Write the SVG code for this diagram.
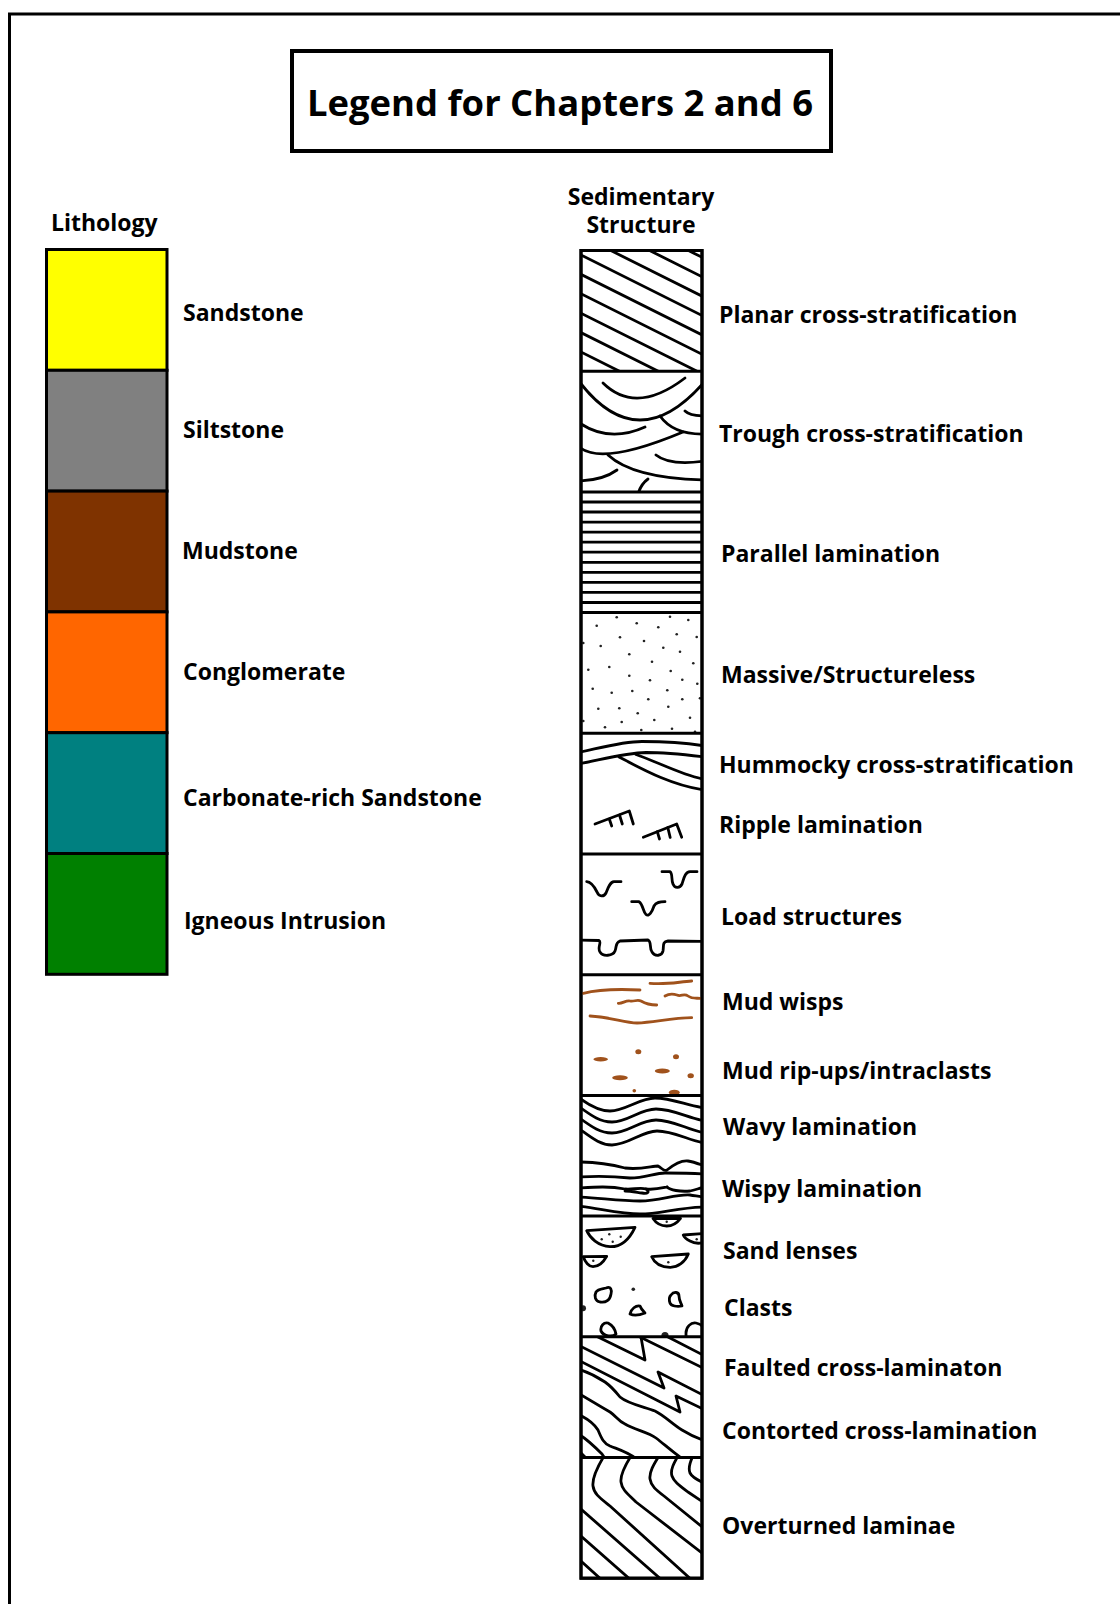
<svg xmlns="http://www.w3.org/2000/svg" width="1120" height="1604" viewBox="0 0 1120 1604">
  <style>
    .frame { fill: none; stroke: #000; stroke-width: 3; }
    .title-box { fill: #fff; stroke: #000; stroke-width: 4; }
    .swatch { stroke: #000; stroke-width: 3; }
    .col { fill: #fff; stroke: #000; stroke-width: 3; }
    .sep { stroke: #000; stroke-width: 3; }
    .ln { fill: none; stroke: #000; stroke-width: 2.8; stroke-linecap: round; stroke-linejoin: round; }
    .mud { fill: none; stroke: #A0521C; stroke-width: 2.8; stroke-linecap: round; stroke-linejoin: round; }
    .mudblob { fill: #A0521C; }
    .dot { fill: #222; }
    .txt { font-family: "Open Sans", "Liberation Sans", sans-serif; font-weight: 700; font-size: 23px; fill: #000; }
    .title { font-family: "Open Sans", "Liberation Sans", sans-serif; font-weight: 700; font-size: 36.4px; fill: #000; }
  </style>
  <defs>
    <clipPath id="c1"><rect x="581" y="250.5" width="121" height="120.7"/></clipPath>
    <clipPath id="c2"><rect x="581" y="371.2" width="121" height="120.7"/></clipPath>
    <clipPath id="c3"><rect x="581" y="491.9" width="121" height="120.7"/></clipPath>
    <clipPath id="c4"><rect x="581" y="612.6" width="121" height="120.7"/></clipPath>
    <clipPath id="c5"><rect x="581" y="733.3" width="121" height="120.7"/></clipPath>
    <clipPath id="c6"><rect x="581" y="854.0" width="121" height="120.7"/></clipPath>
    <clipPath id="c7"><rect x="581" y="974.7" width="121" height="120.7"/></clipPath>
    <clipPath id="c8"><rect x="581" y="1095.4" width="121" height="120.7"/></clipPath>
    <clipPath id="c9"><rect x="581" y="1216.1" width="121" height="120.7"/></clipPath>
    <clipPath id="c10"><rect x="581" y="1336.8" width="121" height="120.7"/></clipPath>
    <clipPath id="c11"><rect x="581" y="1457.5" width="121" height="120.7"/></clipPath>
  </defs>

  <rect width="1120" height="1604" fill="#fff"/>
  <!-- page frame (left and top edges) -->
  <path class="frame" d="M9.5,1604 V14 H1120"/>

  <!-- title -->
  <g id="title">
    <rect class="title-box" x="292" y="51" width="539" height="100"/>
    <text class="title" x="307" y="116">Legend for Chapters 2 and 6</text>
  </g>

  <!-- lithology column -->
  <g id="lithology">
    <text class="txt" x="51" y="231">Lithology</text>
    <g id="sandstone">
      <rect class="swatch" x="46.5" y="249.5" width="120.5" height="120.8" fill="#FFFF00"/>
      <text class="txt" x="183" y="320.5">Sandstone</text>
    </g>
    <g id="siltstone">
      <rect class="swatch" x="46.5" y="370.3" width="120.5" height="120.8" fill="#808080"/>
      <text class="txt" x="183" y="438">Siltstone</text>
    </g>
    <g id="mudstone">
      <rect class="swatch" x="46.5" y="491.1" width="120.5" height="120.8" fill="#7F3300"/>
      <text class="txt" x="182" y="558.5">Mudstone</text>
    </g>
    <g id="conglomerate">
      <rect class="swatch" x="46.5" y="611.9" width="120.5" height="120.8" fill="#FF6600"/>
      <text class="txt" x="183" y="679.5">Conglomerate</text>
    </g>
    <g id="carbonate-sandstone">
      <rect class="swatch" x="46.5" y="732.7" width="120.5" height="120.8" fill="#008080"/>
      <text class="txt" x="183" y="805.5">Carbonate-rich Sandstone</text>
    </g>
    <g id="igneous-intrusion">
      <rect class="swatch" x="46.5" y="853.5" width="120.5" height="120.8" fill="#008000"/>
      <text class="txt" x="184" y="929">Igneous Intrusion</text>
    </g>
  </g>

  <!-- sedimentary structure column -->
  <g id="structures">
    <text class="txt" x="641" y="205" text-anchor="middle">Sedimentary</text>
    <text class="txt" x="641" y="233" text-anchor="middle">Structure</text>
    <rect class="col" x="581" y="250.5" width="121" height="1327.7"/>

    <!-- planar cross-stratification -->
    <g id="planar" clip-path="url(#c1)">
      <g class="ln">
        <line x1="571" y1="191.8" x2="712" y2="262.3"/>
        <line x1="571" y1="211.2" x2="712" y2="281.7"/>
        <line x1="571" y1="230.6" x2="712" y2="301.1"/>
        <line x1="571" y1="250" x2="712" y2="320.5"/>
        <line x1="571" y1="269.4" x2="712" y2="339.9"/>
        <line x1="571" y1="288.8" x2="712" y2="359.3"/>
        <line x1="571" y1="308.2" x2="712" y2="378.7"/>
        <line x1="571" y1="327.6" x2="712" y2="398.1"/>
        <line x1="571" y1="347" x2="712" y2="417.5"/>
      </g>
    </g>

    <!-- trough cross-stratification -->
    <g id="trough" clip-path="url(#c2)">
      <g class="ln">
        <path d="M603,383 Q636,415.5 685,378"/>
        <path d="M578,380 Q638,460 706,380"/>
        <path d="M685,411 Q690,416 705,416"/>
        <path d="M578,422 Q608.5,443.5 645,427"/>
        <path d="M660,416 Q673.5,435 705,434"/>
        <path d="M578,446 Q599.5,467 683,432"/>
        <path d="M656,455 Q669.5,466 705,461"/>
        <path d="M608,455 Q633.5,478.5 705,480"/>
        <path d="M578,481 Q602.5,480.5 617,470"/>
        <path d="M638,494 Q641,484 648,479"/>
      </g>
    </g>

    <!-- parallel lamination -->
    <g id="parallel" clip-path="url(#c3)">
      <g class="ln">
        <line x1="581" y1="502" x2="702" y2="502"/>
        <line x1="581" y1="512" x2="702" y2="512"/>
        <line x1="581" y1="522.1" x2="702" y2="522.1"/>
        <line x1="581" y1="532.1" x2="702" y2="532.1"/>
        <line x1="581" y1="542.2" x2="702" y2="542.2"/>
        <line x1="581" y1="552.2" x2="702" y2="552.2"/>
        <line x1="581" y1="562.3" x2="702" y2="562.3"/>
        <line x1="581" y1="572.3" x2="702" y2="572.3"/>
        <line x1="581" y1="582.4" x2="702" y2="582.4"/>
        <line x1="581" y1="592.4" x2="702" y2="592.4"/>
        <line x1="581" y1="602.5" x2="702" y2="602.5"/>
      </g>
    </g>

    <!-- massive / structureless -->
    <g id="massive" clip-path="url(#c4)">
      <g class="dot">
        <circle cx="616.7" cy="617.3" r="1.3"/><circle cx="670" cy="616.7" r="1.3"/>
        <circle cx="688.3" cy="620" r="1.3"/><circle cx="596.7" cy="625.7" r="1.3"/>
        <circle cx="636.7" cy="623.3" r="1.3"/><circle cx="658.3" cy="627.3" r="1.3"/>
        <circle cx="676.7" cy="634.3" r="1.3"/><circle cx="620" cy="637.3" r="1.3"/>
        <circle cx="696.7" cy="637" r="1.3"/><circle cx="583.3" cy="643" r="1.3"/>
        <circle cx="600.7" cy="646" r="1.3"/><circle cx="644" cy="641" r="1.3"/>
        <circle cx="663.3" cy="647.7" r="1.3"/><circle cx="680" cy="651.7" r="1.3"/>
        <circle cx="629.3" cy="654.3" r="1.3"/><circle cx="652" cy="661.7" r="1.3"/>
        <circle cx="693.3" cy="663.3" r="1.3"/><circle cx="588.3" cy="669.7" r="1.3"/>
        <circle cx="609.3" cy="667" r="1.3"/><circle cx="670.7" cy="671" r="1.3"/>
        <circle cx="629.3" cy="675.7" r="1.3"/><circle cx="650" cy="680.3" r="1.3"/>
        <circle cx="682.3" cy="679.7" r="1.3"/><circle cx="697.3" cy="683.7" r="1.3"/>
        <circle cx="592.7" cy="688.7" r="1.3"/><circle cx="611.7" cy="692.7" r="1.3"/>
        <circle cx="632.3" cy="691" r="1.3"/><circle cx="667.3" cy="690.3" r="1.3"/>
        <circle cx="648.3" cy="699.3" r="1.3"/><circle cx="682.3" cy="699.3" r="1.3"/>
        <circle cx="700" cy="698.3" r="1.3"/><circle cx="598.3" cy="708.7" r="1.3"/>
        <circle cx="619.3" cy="708.3" r="1.3"/><circle cx="637.7" cy="713.3" r="1.3"/>
        <circle cx="668.3" cy="706.7" r="1.3"/><circle cx="583.3" cy="721" r="1.3"/>
        <circle cx="605" cy="727.3" r="1.3"/><circle cx="621.7" cy="722" r="1.3"/>
        <circle cx="654.3" cy="720" r="1.3"/><circle cx="690" cy="717.7" r="1.3"/>
        <circle cx="641.3" cy="730" r="1.3"/><circle cx="672" cy="728.7" r="1.3"/>
        <circle cx="695" cy="731.7" r="1.3"/>
      </g>
    </g>

    <!-- hummocky cross-stratification and ripple lamination -->
    <g id="hummocky-ripple" clip-path="url(#c5)">
      <g class="ln">
        <path d="M578,752.5 C600,748 622,741.5 642,741.5 C665,741.5 688,743 705,746"/>
        <path d="M578,764 C600,760 625,753 646,752.5 C668,752.5 688,755 705,757"/>
        <path d="M619,757 C640,768 672,786 705,790"/>
        <path d="M636,754.5 C660,763 684,776 705,779.5"/>
        <path d="M595,824 L629.3,811 L633.3,824"/>
        <path d="M609.3,819 L611.7,826"/>
        <path d="M619.5,815 L622.3,824"/>
        <path d="M643.3,837.3 L676.7,824 L681.7,837.3"/>
        <path d="M657.3,831.7 L659.5,839"/>
        <path d="M667.8,827.5 L670.2,837.5"/>
      </g>
    </g>

    <!-- load structures -->
    <g id="load" clip-path="url(#c6)">
      <g class="ln">
        <path d="M586.7,881.7 C592,882 595,888 597,892 C599,897 604,897 606,893 C608,888 610,882 614,881.7 L621,881.7"/>
        <path d="M662,871.7 L670,871.7 C673,874 671,880 673,884 C675,889 680,888 682,884 C684,878 685,872 690,871.7 L697,871.7"/>
        <path d="M631.7,901.7 L639,901.7 C643,904 643,912 646,914.5 C649,917 652,912 654,906 C656,902 660,901.7 665,901.7"/>
        <path d="M578,940 L599,940.5 C602,942 597,948 600,952 C603,957 613,956 615,951 C617,946 615,943 620,941 L648,940 C652,942 649,948 652,952 C655,957 662,956 663,951 C664,945 662,942 668,941 L705,941.5"/>
      </g>
    </g>

    <!-- mud wisps and mud rip-ups -->
    <g id="mud" clip-path="url(#c7)">
      <g class="mud">
        <path d="M583.3,993.3 C600,989 620,989 640,990"/>
        <path d="M650,983.3 C665,985 678,982 691.7,981"/>
        <path d="M665,996 C670,993 674,994 677,995 C681,997 684,993 688,996 C692,999 696,998 700,998.3"/>
        <path d="M618.3,1003.3 C622,1004 626,1000 630,1001 C634,1002 637,999 641,1001 C646,1004 650,1005 656.7,1005"/>
        <path d="M590,1016 C610,1017 625,1023 637,1023 C655,1022 672,1018 691.7,1017.7"/>
      </g>
      <g class="mudblob">
        <ellipse cx="638.3" cy="1051.7" rx="3" ry="2.5"/>
        <ellipse cx="600.7" cy="1059.3" rx="7.3" ry="2.2"/>
        <ellipse cx="676" cy="1056.7" rx="3" ry="2.5"/>
        <ellipse cx="662.3" cy="1071" rx="7.5" ry="2.5"/>
        <ellipse cx="690.7" cy="1075.7" rx="3.2" ry="2.5"/>
        <ellipse cx="620" cy="1077.7" rx="7.8" ry="2.5"/>
        <ellipse cx="634.3" cy="1090.7" rx="1.8" ry="1.8"/>
        <ellipse cx="674.3" cy="1092.5" rx="5.5" ry="2.8"/>
      </g>
    </g>

    <!-- wavy and wispy lamination -->
    <g id="wavy-wispy" clip-path="url(#c8)">
      <g class="ln">
        <path d="M578,1097 C590,1106 600,1111 610,1111 C625,1111 640,1098 655,1098 C672,1098 688,1106 705,1108"/>
        <path d="M578,1106 C592,1116 600,1122 612,1122 C628,1122 640,1109 656,1109 C673,1109 688,1118 705,1121"/>
        <path d="M578,1117 C592,1127 600,1133 612,1133 C628,1133 640,1120 656,1120 C673,1120 688,1130 705,1133"/>
        <path d="M578,1128 C592,1138 600,1145 612,1145 C628,1145 642,1131 657,1131 C674,1131 690,1141 705,1143"/>
        <path d="M578,1162 C595,1162 610,1164 625,1168 C640,1170 652,1166 658,1166 C662,1168 664,1172 667,1170 C672,1166 680,1160 688,1161 C694,1162 699,1164 705,1166"/>
        <path d="M578,1177 C595,1176 612,1176 630,1178 C645,1178 655,1173 665,1173 C680,1173 692,1173 705,1174"/>
        <path d="M578,1188 C595,1187 610,1186 625,1189 C632,1190 640,1187 646,1189 C650,1192 648,1194 642,1193 C635,1192 630,1191 625,1191"/>
        <path d="M667,1187 C670,1190 680,1192 690,1191 C695,1190 700,1188 705,1187"/>
        <path d="M646,1189 C655,1190 662,1188 667,1187"/>
        <path d="M578,1197 C600,1198 620,1201 640,1201 C660,1201 675,1194 690,1195 C697,1196 701,1197 705,1197"/>
        <path d="M578,1206 C598,1208 620,1214 640,1214 C660,1214 680,1207 705,1207"/>
      </g>
    </g>

    <!-- sand lenses and clasts -->
    <g id="lenses-clasts" clip-path="url(#c9)">
      <g class="ln">
        <path d="M586.7,1230.7 L635,1227.3 C630,1238 622,1247 610,1246.7 C598,1246 590,1238 586.7,1230.7 Z"/>
        <path d="M653,1218.5 L680.5,1218.3 C677,1223 672,1226 666.7,1226 C660,1226 656,1223 653,1218.5 Z"/>
        <path d="M683.3,1235 L705,1233.3 L705,1241 C702,1244 695,1244 690,1241 C686,1239 684,1237 683.3,1235 Z"/>
        <path d="M583.3,1256.7 L606.7,1256.3 C603,1263 598,1266.7 593,1266.7 C589,1266.7 585,1262 583.3,1256.7 Z"/>
        <path d="M651.7,1256.7 L688.3,1254 C685,1262 678,1267.5 670,1267.3 C660,1267 654,1262 651.7,1256.7 Z"/>
        <path d="M606,1288 C611,1286 612,1290 611,1294 C610,1300 606,1303 600,1302 C595,1301 594,1296 596,1292 C598,1289 602,1289 606,1288 Z"/>
        <path d="M630,1314 C631,1309 636,1305 640,1306 C641,1309 643,1311 645,1313 C640,1315 634,1316 630,1314 Z"/>
        <path d="M671,1295 C674,1291 679,1292 679,1296 C679,1300 681,1303 682,1306 C677,1307 671,1306 670,1303 C669,1300 669,1297 671,1295 Z"/>
        <path d="M601,1331 C600,1326 604,1322 608,1323 C612,1325 615,1329 616,1334 C613,1337 604,1337 601,1331 Z"/>
        <path d="M686,1333 C686,1327 691,1322 696,1323 C701,1324 704,1327 705,1331 L705,1338 L686,1338 Z"/>
      </g>
      <g class="dot">
        <circle cx="609.3" cy="1234.3" r="1.2"/><circle cx="620.7" cy="1236.7" r="1.2"/>
        <circle cx="612.7" cy="1241.7" r="1.2"/><circle cx="601.7" cy="1239.3" r="1.2"/>
        <circle cx="666.7" cy="1221.7" r="1.2"/><circle cx="696.7" cy="1239.3" r="1.2"/>
        <circle cx="593.3" cy="1260.7" r="1.2"/><circle cx="668.3" cy="1262.3" r="1.2"/>
        <circle cx="633.3" cy="1289.3" r="1.8"/>
        <circle cx="583" cy="1308.3" r="3"/>
        <circle cx="665" cy="1335.5" r="3.6"/>
      </g>
    </g>

    <!-- faulted and contorted cross-lamination -->
    <g id="faulted-contorted" clip-path="url(#c10)">
      <g class="ln">
        <path d="M598,1337 L645,1360 L641,1337"/>
        <path d="M578,1345 L664,1388 L658,1372 L705,1396"/>
        <path d="M578,1360 L680,1412 L676,1396 L705,1410"/>
        <path d="M640,1337 L705,1369"/>
        <path d="M668,1337 L705,1356"/>
        <path d="M578,1369 C588,1372 596,1376 605,1382 C612,1387 616,1392 620,1397 C628,1404 645,1407 655,1411 C665,1416 672,1424 682,1430 C690,1435 697,1438 705,1441"/>
        <path d="M578,1393 C590,1400 600,1406 610,1412 C616,1416 618,1421 625,1424 C635,1430 648,1432 656,1438 C664,1444 670,1450 684,1460"/>
        <path d="M578,1414 C586,1418 594,1423 598,1430 C601,1437 603,1443 610,1446 C620,1450 628,1452 638,1460"/>
        <path d="M578,1434 C586,1438 594,1446 602,1454 L606,1460"/>
        <path d="M578,1450 L588,1460"/>
      </g>
    </g>

    <!-- overturned laminae -->
    <g id="overturned" clip-path="url(#c11)">
      <g class="ln">
        <path d="M604,1456 C598,1466 592,1478 593,1486 C594,1494 600,1498 610,1506 L694,1582"/>
        <path d="M631,1456 C626,1464 620,1474 621,1482 C622,1490 628,1494 636,1502 L706,1556"/>
        <path d="M659,1456 C654,1464 649,1472 650,1479 C651,1486 656,1490 664,1496 L706,1530"/>
        <path d="M678,1456 C674,1463 670,1470 672,1476 C674,1482 680,1486 688,1492 L706,1504"/>
        <path d="M693,1456 C690,1462 688,1468 690,1473 C692,1477 697,1480 706,1484"/>
        <path d="M578,1506.5 L663,1581"/>
        <path d="M578,1533.5 L632,1581"/>
        <path d="M578,1558.5 L603,1581"/>
      </g>
    </g>

    <!-- section dividers -->
    <g class="sep">
      <line x1="581" y1="371.2" x2="702" y2="371.2"/>
      <line x1="581" y1="491.9" x2="702" y2="491.9"/>
      <line x1="581" y1="612.6" x2="702" y2="612.6"/>
      <line x1="581" y1="733.3" x2="702" y2="733.3"/>
      <line x1="581" y1="854.0" x2="702" y2="854.0"/>
      <line x1="581" y1="974.7" x2="702" y2="974.7"/>
      <line x1="581" y1="1095.4" x2="702" y2="1095.4"/>
      <line x1="581" y1="1216.1" x2="702" y2="1216.1"/>
      <line x1="581" y1="1336.8" x2="702" y2="1336.8"/>
      <line x1="581" y1="1457.5" x2="702" y2="1457.5"/>
    </g>
    <rect x="581" y="250.5" width="121" height="1327.7" fill="none" stroke="#000" stroke-width="3"/>

    <g id="labels">
      <text class="txt" x="719" y="323">Planar cross-stratification</text>
      <text class="txt" x="719" y="441.5">Trough cross-stratification</text>
      <text class="txt" x="721" y="561.5">Parallel lamination</text>
      <text class="txt" x="721" y="682.5">Massive/Structureless</text>
      <text class="txt" x="719" y="772.5">Hummocky cross-stratification</text>
      <text class="txt" x="719" y="833">Ripple lamination</text>
      <text class="txt" x="721" y="925">Load structures</text>
      <text class="txt" x="722" y="1009.5">Mud wisps</text>
      <text class="txt" x="722" y="1078.5">Mud rip-ups/intraclasts</text>
      <text class="txt" x="723" y="1134.5">Wavy lamination</text>
      <text class="txt" x="722" y="1197">Wispy lamination</text>
      <text class="txt" x="723" y="1258.5">Sand lenses</text>
      <text class="txt" x="724" y="1315.5">Clasts</text>
      <text class="txt" x="724" y="1376">Faulted cross-laminaton</text>
      <text class="txt" x="722" y="1438.5">Contorted cross-lamination</text>
      <text class="txt" x="722" y="1533.5">Overturned laminae</text>
    </g>
  </g>
</svg>
